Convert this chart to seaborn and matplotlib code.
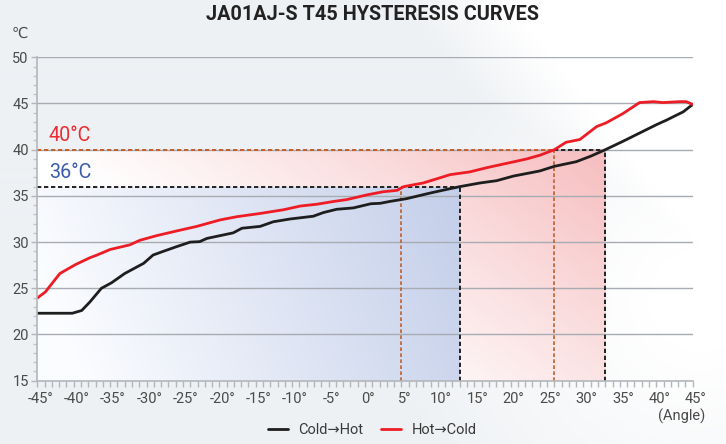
import numpy as np
import pandas as pd
import matplotlib
matplotlib.use("Agg")
import matplotlib.pyplot as plt
import matplotlib.transforms as mtransforms
from matplotlib.lines import Line2D
import seaborn as sns

# ---------------- data ----------------
cold_x = [-45, -40.2, -38.9, -37.8, -36.2, -34.8, -33.0, -30.4, -29.1, -27.7, -25.9, -24.0,
          -22.7, -21.7, -19.9, -18.1, -16.9, -14.4, -12.6, -10.3, -7.1, -5.7, -3.9, -1.6,
          0.8, 2.1, 3.4, 5.7, 8.9, 11.2, 13.0, 15.8, 18.1, 20.4, 22.7, 24.0, 26.0, 29.0,
          31.0, 33.0, 35.4, 37.7, 40.0, 41.4, 43.7, 45]
cold_y = [22.3, 22.3, 22.6, 23.5, 25.0, 25.6, 26.6, 27.7, 28.6, 29.0, 29.5, 30.0,
          30.05, 30.4, 30.7, 31.0, 31.5, 31.7, 32.2, 32.5, 32.8, 33.2, 33.55, 33.7,
          34.15, 34.2, 34.4, 34.7, 35.3, 35.7, 36.0, 36.4, 36.65, 37.15, 37.5, 37.7, 38.2, 38.7,
          39.3, 40.0, 40.9, 41.8, 42.7, 43.2, 44.1, 44.9]
hot_x = [-45, -43.9, -41.9, -39.8, -37.8, -36.8, -35.0, -32.3, -30.9, -28.6, -25.9, -23.1,
         -19.9, -17.6, -14.4, -11.2, -8.9, -6.6, -4.3, -2.5, 0.2, 2.5, 4.4, 5.3, 8.0, 11.7,
         14.4, 16.7, 19.9, 22.2, 24.0, 26.0, 27.6, 29.5, 31.8, 33.1, 35.4, 37.7, 39.6, 40.9,
         43.2, 44.1, 45]
hot_y = [23.95, 24.6, 26.6, 27.55, 28.3, 28.6, 29.2, 29.7, 30.2, 30.7, 31.2, 31.7,
         32.4, 32.75, 33.1, 33.5, 33.9, 34.1, 34.4, 34.6, 35.1, 35.45, 35.6, 36.0, 36.4, 37.3,
         37.6, 38.05, 38.6, 39.0, 39.4, 40.0, 40.8, 41.1, 42.5, 42.9, 43.9, 45.1, 45.2, 45.1,
         45.2, 45.2, 44.9]

x_ticks = list(range(-45, 50, 5))
x_tick_labels = [f"{v}°" for v in x_ticks]
y_ticks = [15, 20, 25, 30, 35, 40, 45, 50]
y_tick_labels = [str(v) for v in y_ticks]

temp_low, temp_high = 36, 40
hot_at_low, cold_at_low = 5, 13
hot_at_high, cold_at_high = 26, 33

series_names = ["Cold\u2192Hot", "Hot\u2192Cold"]
title = "JA01AJ-S T45 HYSTERESIS CURVES"

# ---------------- style ----------------
sns.set_style("ticks")
plt.rcParams["font.family"] = ["Roboto", "DejaVu Sans"]

W, H = 726, 444
fig = plt.figure(figsize=(W / 100, H / 100), dpi=100)

# background gradient
bg_ax = fig.add_axes([0, 0, 1, 1], zorder=-10)
yy, xx = np.mgrid[0:H, 0:W].astype(float)
s = (xx - 440 - 0.79 * yy) / 110.0
w1 = np.clip(s + 0.4, 0, 1)
d = np.sqrt((xx - 700) ** 2 + (yy - 300) ** 2)
w2 = np.clip(1.2 - d / 260, 0, 1)
w = np.maximum(w1, w2)
base = np.array([238, 241, 244]) / 255.0
white = np.array([1.0, 1.0, 1.0])
bg = base[None, None, :] * (1 - w[..., None]) + white[None, None, :] * w[..., None]
bg_ax.imshow(bg, extent=[0, 1, 0, 1], aspect="auto", origin="upper")
bg_ax.set_axis_off()

L, R = 37.3 / W, 692.7 / W
B, T = 1 - 380.7 / H, 1 - 57.3 / H
ax = fig.add_axes([L, B, R - L, T - B])
ax.set_facecolor("none")

# gradient fills
def red_rgba(x0, x1, y0, y1, n=300):
    xs = np.linspace(x0, x1, n)
    ys = np.linspace(y1, y0, n)
    X, Y = np.meshgrid(xs, ys)
    p = np.clip(0.62 + 0.0115 * (X - 13) + 0.0196 * (Y - 38), 0, 1) ** 1.1
    pink = np.array([245, 180, 182]) / 255.0
    img = white * (1 - p[..., None]) + pink * p[..., None]
    return img

def blue_rgba(x0, x1, y0, y1, n=300):
    xs = np.linspace(x0, x1, n)
    ys = np.linspace(y1, y0, n)
    X, Y = np.meshgrid(xs, ys)
    q = np.clip(0.9 + 0.016 * (X - 10) + 0.008 * (Y - 30), 0, 1)
    blue = np.array([195, 206, 233]) / 255.0
    img = np.array([0.985, 0.99, 1.0]) * (1 - q[..., None]) + blue * q[..., None]
    return img

ax.imshow(blue_rgba(-45, cold_at_low, 15, temp_low), extent=[-45, cold_at_low, 15, temp_low],
          aspect="auto", zorder=0.5, interpolation="bilinear")
ax.imshow(red_rgba(-45, cold_at_low, temp_low, temp_high), extent=[-45, cold_at_low, temp_low, temp_high],
          aspect="auto", zorder=0.5, interpolation="bilinear")
ax.imshow(red_rgba(cold_at_low, cold_at_high, 15, temp_high), extent=[cold_at_low, cold_at_high, 15, temp_high],
          aspect="auto", zorder=0.5, interpolation="bilinear")

# grid lines
for yv in y_ticks[1:]:
    ax.axhline(yv, color="#a7abb2", lw=1.0, zorder=1)

# dashed guide lines
dash = (0, (2.2, 1.4))
black_c = "#222222"
orange_c = "#c0602c"
ax.plot([-45, cold_at_low], [temp_low, temp_low], color=black_c, lw=1.4, ls=dash, zorder=2)
ax.plot([cold_at_low, cold_at_low], [15, temp_low], color=black_c, lw=1.4, ls=dash, zorder=2)
ax.plot([hot_at_high, cold_at_high], [temp_high, temp_high], color=black_c, lw=1.4, ls=dash, zorder=2)
ax.plot([cold_at_high, cold_at_high], [15, temp_high], color=black_c, lw=1.4, ls=dash, zorder=2)
ax.plot([-45, hot_at_high], [temp_high, temp_high], color=orange_c, lw=1.4, ls=dash, zorder=2)
ax.plot([hot_at_low, hot_at_low], [15, temp_low], color=orange_c, lw=1.2, ls=dash, zorder=2)
ax.plot([hot_at_high, hot_at_high], [15, temp_high], color=orange_c, lw=1.2, ls=dash, zorder=2)

# curves
df_cold = pd.DataFrame({"angle": cold_x, "temp": cold_y})
df_hot = pd.DataFrame({"angle": hot_x, "temp": hot_y})
sns.lineplot(data=df_cold, x="angle", y="temp", ax=ax, color="#1e1e1e", lw=2.0,
             sort=False, estimator=None, legend=False, zorder=3)
sns.lineplot(data=df_hot, x="angle", y="temp", ax=ax, color="#ee1c25", lw=2.0,
             sort=False, estimator=None, legend=False, zorder=4)

ax.set_xlim(-45, 45)
ax.set_ylim(15, 50)
ax.set_xlabel("")
ax.set_ylabel("")

# spines & ticks
for sp in ["top", "right"]:
    ax.spines[sp].set_visible(False)
for sp in ["left", "bottom"]:
    ax.spines[sp].set_color("#b3b6bb")
    ax.spines[sp].set_linewidth(1.2)
    ax.spines[sp].set_zorder(5)

ax.set_xticks(x_ticks)
ax.set_xticklabels(x_tick_labels)
ax.set_yticks(y_ticks)
ax.set_yticklabels(y_tick_labels)
ax.set_xticks(np.arange(-45, 46, 1), minor=True)
ax.set_yticks(np.arange(15, 51, 1), minor=True)
ax.tick_params(axis="x", which="both", length=4, width=1.0, color="#b3b6bb", pad=4,
               labelsize=10.5, labelcolor="#4a4a4a")
ax.tick_params(axis="y", which="major", length=4.2, width=1.0, color="#b3b6bb", pad=2,
               labelsize=10.5, labelcolor="#4a4a4a")
ax.tick_params(axis="y", which="minor", length=3, width=1.0, color="#c2c5c9")
offset = mtransforms.ScaledTranslation(3 / 100, 0, fig.dpi_scale_trans)
for lab in ax.get_xticklabels():
    lab.set_transform(lab.get_transform() + offset)

# threshold labels
ax.text(-43.4, 40.5, f"{temp_high}°C", color="#ee2a33", fontsize=14.2, ha="left", va="bottom", zorder=6)
ax.text(-43.4, 36.5, f"{temp_low}°C", color="#3a5aac", fontsize=14.2, ha="left", va="bottom", zorder=6)

# titles & annotations
fig.text(372.5 / W, 1 - 15 / H, title, ha="center", va="center", fontsize=14.3,
         fontweight="bold", color="#222222")
fig.text(19.5 / W, 1 - 33.5 / H, "\u2103", ha="center", va="center", fontsize=10.5,
         color="#4a4a4a", family=["DejaVu Sans"])
fig.text(681.5 / W, 1 - 416.5 / H, "(Angle)", ha="center", va="center", fontsize=10.5,
         color="#4a4a4a")

handles = [Line2D([0], [0], color="#1e1e1e", lw=2.0), Line2D([0], [0], color="#ee1c25", lw=2.0)]
fig.legend(handles, series_names, loc="center", bbox_to_anchor=(372 / W, 1 - 430 / H), ncol=2,
           frameon=False, fontsize=10.5, handlelength=1.4, handletextpad=0.7, columnspacing=1.2,
           labelcolor="#3a3a3a")

fig.savefig("out.png", dpi=100)
